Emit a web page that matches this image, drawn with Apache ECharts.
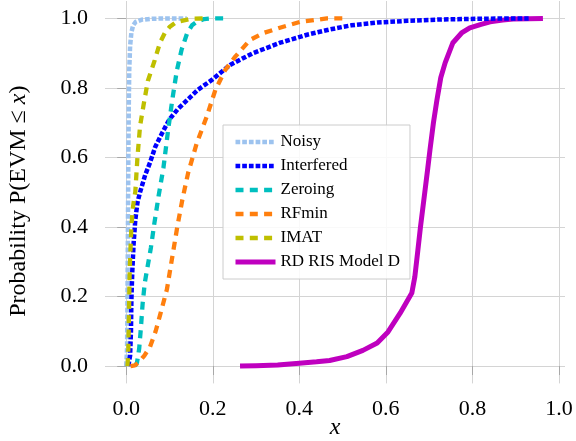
<!DOCTYPE html>
<html>
<head>
<meta charset="utf-8">
<script src="https://cdn.jsdelivr.net/npm/echarts@6/dist/echarts.min.js"></script>
<style>html,body{margin:0;padding:0;background:#fff}#c{width:576px;height:441px}</style>
</head>
<body>
<div id="c"></div>
<script>
const tickValues = [0.0, 0.2, 0.4, 0.6, 0.8, 1.0];

const noisyX = [0.000, 0.002, 0.003, 0.004, 0.005, 0.006, 0.007, 0.009, 0.012, 0.016, 0.022, 0.035, 0.06, 0.10, 0.14];
const noisyY = [0.00, 0.05, 0.20, 0.40, 0.60, 0.75, 0.85, 0.92, 0.96, 0.98, 0.99, 0.996, 0.999, 1.0, 1.0];

const interfX = [0.005, 0.009, 0.011, 0.012, 0.014, 0.017, 0.021, 0.026, 0.032, 0.044, 0.055, 0.067, 0.083, 0.100, 0.120, 0.141, 0.166, 0.198, 0.240, 0.293, 0.356, 0.418, 0.470, 0.520, 0.580, 0.650, 0.730, 0.820, 0.930];
const interfY = [0.00, 0.03, 0.10, 0.19, 0.27, 0.35, 0.42, 0.47, 0.50, 0.55, 0.585, 0.63, 0.67, 0.71, 0.74, 0.765, 0.795, 0.823, 0.866, 0.90, 0.93, 0.953, 0.968, 0.98, 0.988, 0.993, 0.997, 0.999, 1.0];

const zeroX = [0.020, 0.025, 0.030, 0.034, 0.038, 0.043, 0.050, 0.057, 0.065, 0.075, 0.086, 0.097, 0.107, 0.117, 0.128, 0.141, 0.152, 0.163, 0.180, 0.200, 0.225];
const zeroY = [0.00, 0.01, 0.05, 0.11, 0.18, 0.24, 0.29, 0.34, 0.41, 0.49, 0.57, 0.68, 0.77, 0.85, 0.91, 0.958, 0.98, 0.99, 0.998, 1.0, 1.0];

const rfX = [0.010, 0.020, 0.030, 0.042, 0.055, 0.068, 0.079, 0.094, 0.106, 0.118, 0.130, 0.143, 0.163, 0.186, 0.206, 0.229, 0.252, 0.286, 0.317, 0.363, 0.402, 0.464, 0.500];
const rfY = [0.00, 0.002, 0.012, 0.03, 0.055, 0.10, 0.15, 0.22, 0.31, 0.40, 0.48, 0.555, 0.641, 0.717, 0.794, 0.852, 0.89, 0.938, 0.958, 0.976, 0.99, 1.0, 1.0];

const imatX = [0.003, 0.005, 0.006, 0.007, 0.008, 0.010, 0.012, 0.015, 0.018, 0.021, 0.026, 0.032, 0.040, 0.050, 0.058, 0.066, 0.078, 0.090, 0.100, 0.112, 0.125, 0.150, 0.190];
const imatY = [0.00, 0.05, 0.12, 0.20, 0.27, 0.34, 0.40, 0.45, 0.48, 0.50, 0.60, 0.69, 0.75, 0.82, 0.85, 0.88, 0.93, 0.96, 0.975, 0.986, 0.992, 0.999, 1.0];

const risX = [0.263, 0.300, 0.350, 0.400, 0.440, 0.470, 0.510, 0.547, 0.580, 0.605, 0.633, 0.660, 0.667, 0.674, 0.680, 0.690, 0.697, 0.702, 0.710, 0.718, 0.727, 0.737, 0.755, 0.775, 0.794, 0.820, 0.841, 0.870, 0.894, 0.930, 0.963];
const risY = [0.00, 0.001, 0.003, 0.008, 0.012, 0.016, 0.027, 0.045, 0.066, 0.098, 0.152, 0.21, 0.257, 0.333, 0.40, 0.50, 0.57, 0.622, 0.70, 0.765, 0.83, 0.872, 0.93, 0.958, 0.973, 0.983, 0.99, 0.995, 0.998, 0.999, 1.0];

const seriesNames = ['Noisy', 'Interfered', 'Zeroing', 'RFmin', 'IMAT', 'RD RIS Model D'];

function pairs(xs, ys) { return xs.map((x, i) => [x, ys[i]]); }

const FONT = 'Liberation Serif';
const chart = echarts.init(document.getElementById('c'), null, {renderer: 'canvas'});

function mk(name, xs, ys, color, width, type, z) {
  return {
    name: name, type: 'line', data: pairs(xs, ys), showSymbol: false, symbol: 'none',
    z: z, clip: true,
    lineStyle: {color: color, width: width, type: type, cap: 'butt', join: 'round'},
    itemStyle: {color: color},
    emphasis: {disabled: true}
  };
}

const dotted = [4.7, 2];
const dashed = [8, 6.3];

chart.setOption({
  animation: false,
  grid: {left: 105, right: 11, top: 1, bottom: 57.6, containLabel: false, outerBoundsMode: 'none'},
  xAxis: {
    type: 'value', min: -0.049, max: 1.014,
    name: 'x', nameLocation: 'middle', nameGap: 32, nameMoveOverlap: false,
    nameTextStyle: {fontFamily: FONT, fontSize: 24, fontStyle: 'italic', color: '#000'},
    axisLine: {show: false},
    axisTick: {show: true, customValues: tickValues, length: 9, lineStyle: {color: '#a8a8a8', width: 1}},
    axisLabel: {customValues: tickValues, margin: 15, fontFamily: FONT, fontSize: 22, color: '#000',
      formatter: v => v.toFixed(1)},
    splitLine: {show: true, lineStyle: {color: '#d4d4d4', width: 1}}
  },
  yAxis: {
    type: 'value', min: -0.05, max: 1.05,
    name: 'Probability P(EVM ≤ {i|x})', nameLocation: 'middle', nameGap: 74, nameMoveOverlap: false,
    nameTextStyle: {fontFamily: FONT, fontSize: 24, color: '#000', padding: [0, 18, 0, 0],
      rich: {i: {fontFamily: FONT, fontSize: 24, fontStyle: 'italic', color: '#000'}}},
    axisLine: {show: false},
    axisTick: {show: true, customValues: tickValues, length: 9, lineStyle: {color: '#a8a8a8', width: 1}},
    axisLabel: {customValues: tickValues, margin: 17, fontFamily: FONT, fontSize: 22, color: '#000',
      formatter: v => v.toFixed(1)},
    splitLine: {show: true, lineStyle: {color: '#d4d4d4', width: 1}}
  },
  legend: {
    data: seriesNames,
    orient: 'vertical', left: 223, top: 125,
    padding: [8, 10, 8, 10],
    itemWidth: 40, itemHeight: 14, itemGap: 6,
    backgroundColor: 'rgba(255,255,255,0.85)',
    borderColor: '#cccccc', borderWidth: 1, borderRadius: 0,
    textStyle: {fontFamily: FONT, fontSize: 17, color: '#000', lineHeight: 18},
    itemStyle: {opacity: 0, borderWidth: 0},
    lineStyle: {width: 'inherit'},
    selectedMode: false
  },
  series: [
    mk('RD RIS Model D', risX, risY, '#bf00bf', 5, 'solid', 1),
    mk('Noisy', noisyX, noisyY, '#9dc3ef', 4.5, dotted, 2),
    mk('Interfered', interfX, interfY, '#0000ff', 4.5, dotted, 2),
    mk('Zeroing', zeroX, zeroY, '#00bfbf', 4.3, dashed, 2),
    mk('RFmin', rfX, rfY, '#ff7f0e', 4.3, dashed, 2),
    mk('IMAT', imatX, imatY, '#bfbf00', 4.3, dashed, 2)
  ]
});
</script>
</body>
</html>
